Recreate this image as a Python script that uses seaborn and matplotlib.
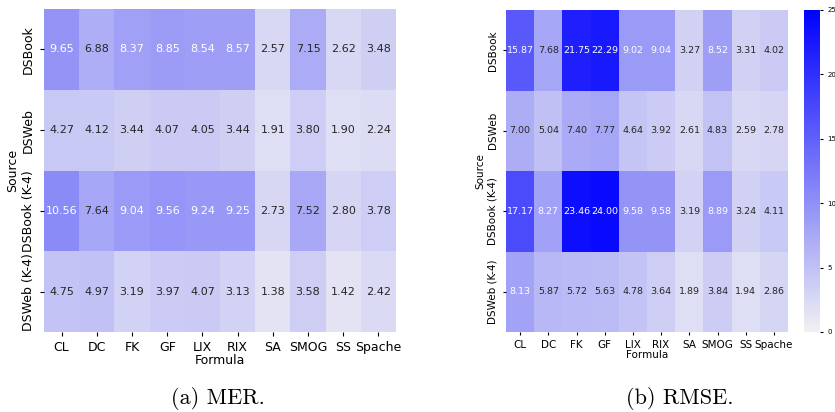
import numpy as np
import pandas as pd
import seaborn as sns
import matplotlib.pyplot as plt

formulas = ["CL", "DC", "FK", "GF", "LIX", "RIX", "SA", "SMOG", "SS", "Spache"]
sources = ["DSBook", "DSWeb", "DSBook (K-4)", "DSWeb (K-4)"]

mer_dsbook = [9.65, 6.88, 8.37, 8.85, 8.54, 8.57, 2.57, 7.15, 2.62, 3.48]
mer_dsweb = [4.27, 4.12, 3.44, 4.07, 4.05, 3.44, 1.91, 3.80, 1.90, 2.24]
mer_dsbook_k4 = [10.56, 7.64, 9.04, 9.56, 9.24, 9.25, 2.73, 7.52, 2.80, 3.78]
mer_dsweb_k4 = [4.75, 4.97, 3.19, 3.97, 4.07, 3.13, 1.38, 3.58, 1.42, 2.42]

rmse_dsbook = [15.87, 7.68, 21.75, 22.29, 9.02, 9.04, 3.27, 8.52, 3.31, 4.02]
rmse_dsweb = [7.00, 5.04, 7.40, 7.77, 4.64, 3.92, 2.61, 4.83, 2.59, 2.78]
rmse_dsbook_k4 = [17.17, 8.27, 23.46, 24.00, 9.58, 9.58, 3.19, 8.89, 3.24, 4.11]
rmse_dsweb_k4 = [8.13, 5.87, 5.72, 5.63, 4.78, 3.64, 1.89, 3.84, 1.94, 2.86]

mer = pd.DataFrame([mer_dsbook, mer_dsweb, mer_dsbook_k4, mer_dsweb_k4],
                   index=pd.Index(sources, name="Source"),
                   columns=pd.Index(formulas, name="Formula"))
rmse = pd.DataFrame([rmse_dsbook, rmse_dsweb, rmse_dsbook_k4, rmse_dsweb_k4],
                    index=pd.Index(sources, name="Source"),
                    columns=pd.Index(formulas, name="Formula"))

cmap = sns.light_palette("blue", as_cmap=True)

fig = plt.figure(figsize=(8.35, 4.12), dpi=100)

# (a) MER
ax1 = fig.add_axes([44 / 835, 1 - 332 / 412, 352 / 835, 323 / 412])
sns.heatmap(mer, ax=ax1, cmap=cmap, vmin=0, vmax=25, annot=True, fmt=".2f",
            cbar=False, annot_kws={"size": 8})
ax1.tick_params(labelsize=9, length=3)
ax1.set_xlabel("Formula", fontsize=9, labelpad=0)
ax1.set_ylabel("Source", fontsize=9, labelpad=2)
plt.setp(ax1.get_xticklabels(), rotation=0)
plt.setp(ax1.get_yticklabels(), rotation=90, va="center")

# (b) RMSE
ax2 = fig.add_axes([506 / 835, 1 - 332 / 412, 282 / 835, 322 / 412])
cax = fig.add_axes([804 / 835, 1 - 332 / 412, 16 / 835, 322 / 412])
sns.heatmap(rmse, ax=ax2, cbar_ax=cax, cmap=cmap, vmin=0, vmax=25, annot=True,
            fmt=".2f", annot_kws={"size": 6.8})
ax2.tick_params(labelsize=7.5, length=2.5)
ax2.set_xlabel("Formula", fontsize=7.5, labelpad=0)
ax2.set_ylabel("Source", fontsize=7.5, labelpad=2)
plt.setp(ax2.get_xticklabels(), rotation=0)
plt.setp(ax2.get_yticklabels(), rotation=90, va="center")
cax.tick_params(labelsize=5, length=2)
cax.set_yticks([0, 5, 10, 15, 20, 25])

# captions
fig.text(218 / 835, 1 - 399 / 412, "(a) MER.", family="cmr10", fontsize=16,
         ha="center", va="center")
fig.text(680 / 835, 1 - 399 / 412, "(b) RMSE.", family="cmr10", fontsize=16,
         ha="center", va="center")

fig.savefig("out.png", dpi=100)
